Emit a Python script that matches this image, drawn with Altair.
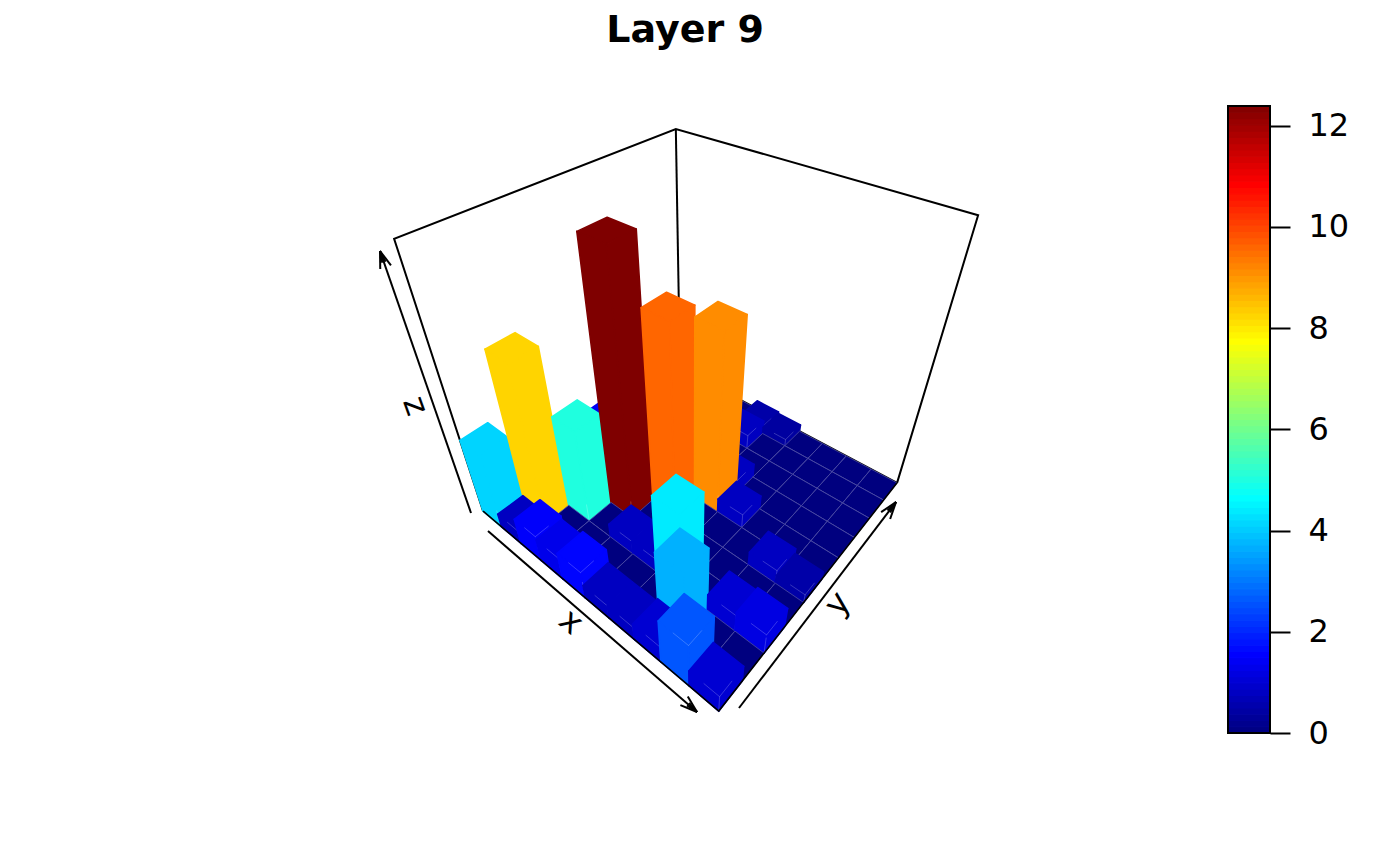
import altair as alt
import numpy as np
import pandas as pd

TITLE = "Layer 9"
Z_MAX = 12.39
JET = ["#00007F", "#0000FF", "#007FFF", "#00FFFF", "#7FFF7F", "#FFFF00", "#FF7F00", "#FF0000", "#7F0000"]
TICKS = [0, 2, 4, 6, 8, 10, 12]

# heights[i][j]: i runs along x, j along y
heights = [
    [4.13, 0.0, 0.0, 0.0, 0.0, 1.4, 0.0, 0.0, 0.0, 0.0],
    [0.8, 8.26, 0.0, 0.0, 0.0, 0.0, 0.0, 0.0, 0.0, 0.0],
    [1.5, 0.0, 5.03, 0.0, 0.0, 0.0, 0.0, 0.0, 0.0, 0.0],
    [1.3, 0.0, 0.0, 12.39, 0.0, 0.0, 0.0, 0.0, 0.0, 0.0],
    [1.6, 0.0, 0.8, 0.0, 9.6, 0.0, 0.0, 0.0, 0.8, 0.5],
    [0.8, 0.0, 0.8, 0.0, 0.0, 9.13, 0.8, 0.0, 0.0, 0.4],
    [0.8, 0.0, 4.4, 0.0, 0.0, 0.8, 0.0, 0.0, 0.0, 0.0],
    [1.0, 3.7, 0.0, 0.0, 0.0, 0.0, 0.0, 0.0, 0.0, 0.0],
    [2.6, 0.0, 1.0, 0.0, 0.8, 0.0, 0.0, 0.0, 0.0, 0.0],
    [1.0, 0.0, 1.2, 0.0, 0.5, 0.0, 0.0, 0.0, 0.0, 0.0],
]

# camera calibration: unit cube corner -> page position
CUBE = {
    (0, 0, 0): (483, 511), (1, 0, 0): (719, 711), (1, 1, 0): (897, 483),
    (0, 0, 1): (394, 239), (0, 1, 1): (676, 129), (1, 1, 1): (978, 215),
}
rows = []
for (X, Y, Z), (u, v) in CUBE.items():
    rows.append([X, Y, Z, 1, 0, 0, 0, 0, -u * X, -u * Y, -u * Z, -u])
    rows.append([0, 0, 0, 0, X, Y, Z, 1, -v * X, -v * Y, -v * Z, -v])
P = np.linalg.svd(np.array(rows, float))[2][-1].reshape(3, 4)


def proj(x, y, z):
    a = P @ np.array([x, y, z, 1.0])
    return a[0] / a[2], a[1] / a[2]


def hex_of(v):
    t = min(max(v / Z_MAX, 0), 1) * 8
    k = min(int(t), 7)
    c0 = np.array([int(JET[k][n:n + 2], 16) for n in (1, 3, 5)])
    c1 = np.array([int(JET[k + 1][n:n + 2], 16) for n in (1, 3, 5)])
    c = c0 + (c1 - c0) * (t - k)
    return c


def to_hex(c):
    return "#%02x%02x%02x" % tuple(int(round(q)) for q in c)


polys = []
pid = 0


def add(points, value, edge, w):
    global pid
    pid += 1
    for s, (x, y, z) in enumerate(points):
        px, py = proj(x / 10, y / 10, z / Z_MAX)
        polys.append({"p": pid, "s": s, "px": px, "py": py, "value": value, "edge": edge, "w": w})


for i in range(10):
    for j in range(9, -1, -1):
        h = heights[i][j]
        base = hex_of(h)
        solid = to_hex(base)
        seam = to_hex(base + (255 - base) * 0.3)
        top = [(i, j, h), (i + 1, j, h), (i + 1, j + 1, h), (i, j + 1, h), (i, j, h)]
        if h > 0:
            add(top, h, solid, 1.6)
            add([(i + 1, j, 0), (i + 1, j + 1, 0), (i + 1, j + 1, h), (i + 1, j, h), (i + 1, j, 0)], h, solid, 1.6)
            add([(i, j, 0), (i + 1, j, 0), (i + 1, j, h), (i, j, h), (i, j, 0)], h, solid, 1.6)
            low = min(h, 1.0)
            add([(i + 1, j, 0), (i + 1, j, low)], h, seam, 0.7)
            if h <= 3:
                add([(i + 1, j, h), (i + 0.5, j, h)], h, seam, 0.7)
                add([(i + 1, j, h), (i + 1, j + 0.5, h)], h, seam, 0.7)
        else:
            add(top, h, seam, 0.8)

polys = pd.DataFrame(polys)

X_SC = alt.Scale(domain=[8, 1392], nice=False, zero=False)
Y_SC = alt.Scale(domain=[858, 68], nice=False, zero=False)
C_SC = alt.Scale(domain=list(np.linspace(0, Z_MAX, 9)), range=JET, interpolate="rgb")

ax = alt.X("px:Q", scale=X_SC, axis=None)
ay = alt.Y("py:Q", scale=Y_SC, axis=None)


def polylines(groups, width):
    rec = []
    for g, pts in enumerate(groups):
        for s, (x, y) in enumerate(pts):
            rec.append({"g": g, "s": s, "px": x, "py": y})
    return alt.Chart(pd.DataFrame(rec)).mark_line(color="black", strokeWidth=width).encode(
        x=ax, y=ay, detail="g:N", order="s:Q")


def c(x, y, z):
    return proj(x, y, z)


back_box = polylines([
    [c(0, 0, 0), c(0, 0, 1), c(0, 1, 1), c(1, 1, 1), c(1, 1, 0)],
    [c(0, 1, 1), c(0, 1, 0)],
    [c(0, 0, 0), c(0, 1, 0), c(1, 1, 0)],
], 2)
front_box = polylines([[c(0, 0, 0), c(1, 0, 0), c(1, 1, 0)]], 1.6)


def arrow(a, b):
    a, b = np.array(a, float), np.array(b, float)
    d = (b - a) / np.linalg.norm(b - a)
    out = [[tuple(a), tuple(b)]]
    for ang, ln in ((0.32, 18), (-0.32, 18), (0.14, 12), (-0.14, 12)):
        r = np.array([[np.cos(ang), -np.sin(ang)], [np.sin(ang), np.cos(ang)]])
        out.append([tuple(b), tuple(b - ln * r @ d)])
    return out


arrows = polylines(
    arrow((488, 531), (697, 712)) + arrow((739, 708), (896, 502)) + arrow((471, 513), (380, 251)), 2)

bars = alt.Chart(polys).mark_line(strokeCap="round", strokeJoin="round").encode(
    x=ax, y=ay, detail="p:N", order="s:Q",
    fill=alt.Fill("value:Q", scale=C_SC, legend=None),
    stroke=alt.Stroke("edge:N", scale=None),
    strokeWidth=alt.StrokeWidth("w:Q", scale=None),
)


def label(text, x, y, angle):
    return alt.Chart(pd.DataFrame({"t": [text], "px": [x], "py": [y]})).mark_text(
        font="DejaVu Sans", fontSize=33, angle=angle, align="center", baseline="middle", color="black"
    ).encode(x=ax, y=ay, text="t:N")


labels = label("x", 571, 622, 40) + label("y", 838, 604, 308) + label("z", 415, 406, 70)

BY_SC = alt.Scale(domain=[0, Z_MAX], range=[665, 38], nice=False, zero=False)
levels = np.linspace(0, Z_MAX, 101)
mids = (levels[:-1] + levels[1:]) / 2
bar_df = pd.DataFrame({"lo": levels[:-1], "hi": levels[1:], "mid": mids,
                       "edge": [to_hex(hex_of(m)) for m in mids]})
bar = alt.Chart(bar_df).mark_rect(strokeWidth=1.2).encode(
    x=alt.value(1220), x2=alt.value(1262),
    y=alt.Y("lo:Q", scale=BY_SC, axis=alt.Axis(
        orient="right", offset=-122, values=TICKS, domain=False, grid=False, tickSize=20, tickWidth=2,
        tickColor="black", labelFont="DejaVu Sans", labelFontSize=32, labelColor="black", labelPadding=18,
        title=None, labelFlush=False, labelOverlap=False)),
    y2="hi:Q",
    fill=alt.Fill("mid:Q", scale=C_SC, legend=None),
    stroke=alt.Stroke("edge:N", scale=None),
)
frame = alt.Chart(pd.DataFrame({"lo": [0.0], "hi": [Z_MAX]})).mark_rect(
    filled=False, stroke="black", strokeWidth=2).encode(
    x=alt.value(1220), x2=alt.value(1262),
    y=alt.Y("lo:Q", scale=BY_SC, axis=None), y2="hi:Q")

main = alt.layer(back_box, bars, front_box, arrows, labels)
chart = alt.layer(main, bar, frame).resolve_scale(y="independent", fill="shared").properties(
    width=1384, height=790,
    padding={"left": 0, "right": 0, "top": 60, "bottom": 0},
    autosize=alt.AutoSizeParams(type="none"),
    title=alt.TitleParams(TITLE, font="DejaVu Sans", fontSize=38, fontWeight="bold", color="black",
                          anchor="middle", dx=-15, offset=18),
).configure_view(stroke=None)

chart.save("out.html", embed_options={"renderer": "svg", "actions": False})
